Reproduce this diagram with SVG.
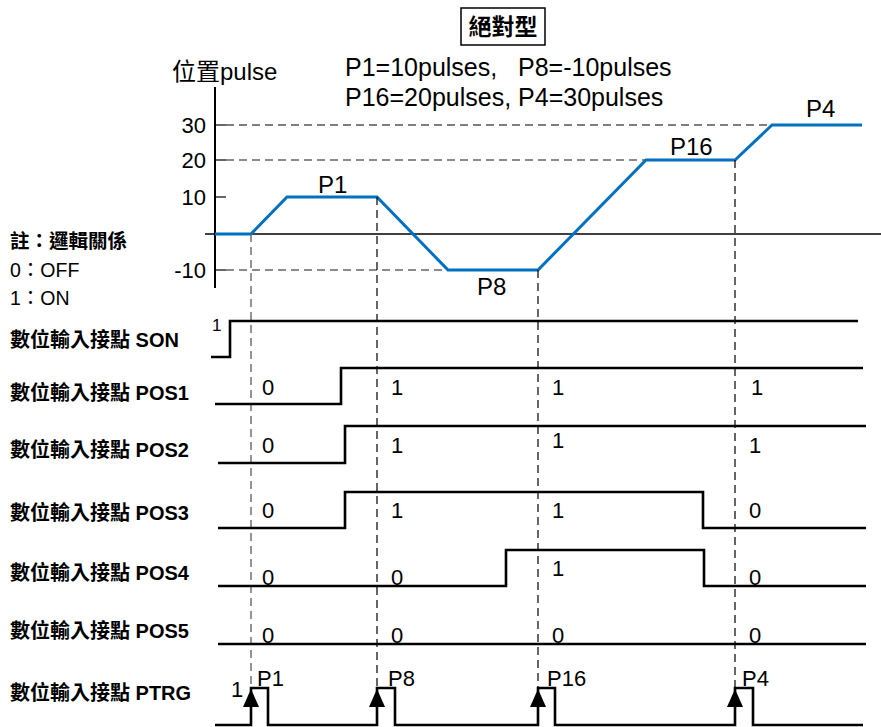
<svg xmlns="http://www.w3.org/2000/svg" width="881" height="727" viewBox="0 0 881 727">
<style>
text{font-family:"Liberation Sans","Noto Sans CJK TC",sans-serif;fill:#000}
.lbl{font-size:20px;font-weight:bold}
.note{font-size:19.5px}
.nb{font-weight:bold}
.v{font-size:22px}
.p{font-size:22px}
.big{font-size:22px}
.cl{font-size:24px}
.sig{fill:none;stroke:#000;stroke-width:2.6}
.vd{fill:none;stroke:#000;stroke-width:1.2;stroke-dasharray:8 5}
.vdg{fill:none;stroke:#666;stroke-width:1.4;stroke-dasharray:8 5}
.hd{fill:none;stroke:#000;stroke-width:1.2;stroke-dasharray:8 5}
.hdg{fill:none;stroke:#666;stroke-width:1.5;stroke-dasharray:8 5}
.arr{fill:#000}
</style>
<g id="title">
<rect x="461" y="8" width="84" height="37" fill="none" stroke="#000" stroke-width="1.5"/>
<text x="503" y="35" text-anchor="middle" font-size="23" font-weight="bold">絕對型</text>
</g>
<g id="legend">
<text x="345" y="76" font-size="25" xml:space="preserve" style="white-space:pre">P1=10pulses,   P8=-10pulses</text>
<text x="345" y="106" font-size="25">P16=20pulses, P4=30pulses</text>
</g>
<g id="notes">
<text x="10" y="248" class="note nb">註：邏輯關係</text>
<text x="10" y="277" class="note">0：OFF</text>
<text x="10" y="305" class="note">1：ON</text>
</g>
<g id="position-chart">
<text x="172" y="80" font-size="24">位置pulse</text>
<line x1="215" y1="87" x2="215" y2="288" stroke="#000" stroke-width="2"/>
<line x1="205" y1="234" x2="881" y2="234" stroke="#000" stroke-width="1.6"/>
<line x1="215" y1="125" x2="226" y2="125" stroke="#000" stroke-width="1.2"/>
<line x1="215" y1="197" x2="226" y2="197" stroke="#000" stroke-width="1.2"/>
<line x1="215" y1="160" x2="226" y2="160" stroke="#000" stroke-width="1.2"/>
<line x1="215" y1="270" x2="226" y2="270" stroke="#000" stroke-width="1.2"/>
<path class="hd" d="M226 125H772"/>
<path class="hdg" d="M226 160H646"/>
<path class="hdg" d="M226 270H448"/>
<text x="206" y="133" class="big" text-anchor="end">30</text>
<text x="206" y="168" class="big" text-anchor="end">20</text>
<text x="206" y="205" class="big" text-anchor="end">10</text>
<text x="206" y="278" class="big" text-anchor="end">-10</text>
<polyline points="215,234 251,234 287,197 377,197 448,270 538,270 646,160 735,160 772,125 862,125" fill="none" stroke="#0070C0" stroke-width="3"/>
<text x="318" y="193" class="cl">P1</text>
<text x="477" y="295" class="cl">P8</text>
<text x="670" y="155" class="cl">P16</text>
<text x="806" y="117" class="cl">P4</text>
</g>
<g id="connectors">
<path class="vdg" d="M251 234V690"/>
<path class="vd" d="M377 197V690"/>
<path class="vd" d="M538 270V690"/>
<path class="vd" d="M735 160V690"/>
</g>
<g id="row-son">
<text x="10" y="347" class="lbl">數位輸入接點 SON</text>
<path class="sig" d="M211 357H230V321H858"/>
<text x="212" y="331" font-size="17">1</text>
</g>
<g id="row-pos1">
<text x="10" y="400" class="lbl">數位輸入接點 POS1</text>
<path class="sig" d="M215 404H341V368H863"/>
<text x="262" y="395" class="v">0</text>
<text x="391" y="395" class="v">1</text>
<text x="552" y="395" class="v">1</text>
<text x="751" y="395" class="v">1</text>
</g>
<g id="row-pos2">
<text x="10" y="457" class="lbl">數位輸入接點 POS2</text>
<path class="sig" d="M218 463H345V426H866"/>
<text x="262" y="453" class="v">0</text>
<text x="391" y="453" class="v">1</text>
<text x="552" y="448" class="v">1</text>
<text x="749" y="453" class="v">1</text>
</g>
<g id="row-pos3">
<text x="10" y="520" class="lbl">數位輸入接點 POS3</text>
<path class="sig" d="M218 528H345V492H703V528H866"/>
<text x="262" y="518" class="v">0</text>
<text x="391" y="518" class="v">1</text>
<text x="552" y="518" class="v">1</text>
<text x="749" y="518" class="v">0</text>
</g>
<g id="row-pos4">
<text x="10" y="580" class="lbl">數位輸入接點 POS4</text>
<path class="sig" d="M218 586H506V550H704V586H866"/>
<text x="262" y="585" class="v">0</text>
<text x="391" y="585" class="v">0</text>
<text x="552" y="576" class="v">1</text>
<text x="749" y="585" class="v">0</text>
</g>
<g id="row-pos5">
<text x="10" y="638" class="lbl">數位輸入接點 POS5</text>
<path class="sig" d="M218 644H866"/>
<text x="262" y="643" class="v">0</text>
<text x="391" y="643" class="v">0</text>
<text x="552" y="643" class="v">0</text>
<text x="749" y="643" class="v">0</text>
</g>
<g id="row-ptrg">
<text x="10" y="700" class="lbl">數位輸入接點 PTRG</text>
<path class="sig" d="M215 725H251V688H268V725H377V688H395V725H538V688H555V725H735V688H753V725H863"/>
<text x="231" y="697" class="p">1</text>
<text x="257" y="686" class="p">P1</text>
<text x="388" y="686" class="p">P8</text>
<text x="547" y="686" class="p">P16</text>
<text x="742" y="686" class="p">P4</text>
<polygon class="arr" points="251,689 243,707 259,707"/>
<polygon class="arr" points="377,689 369,707 385,707"/>
<polygon class="arr" points="538,689 530,707 546,707"/>
<polygon class="arr" points="735,689 727,707 743,707"/>
</g>
</svg>
